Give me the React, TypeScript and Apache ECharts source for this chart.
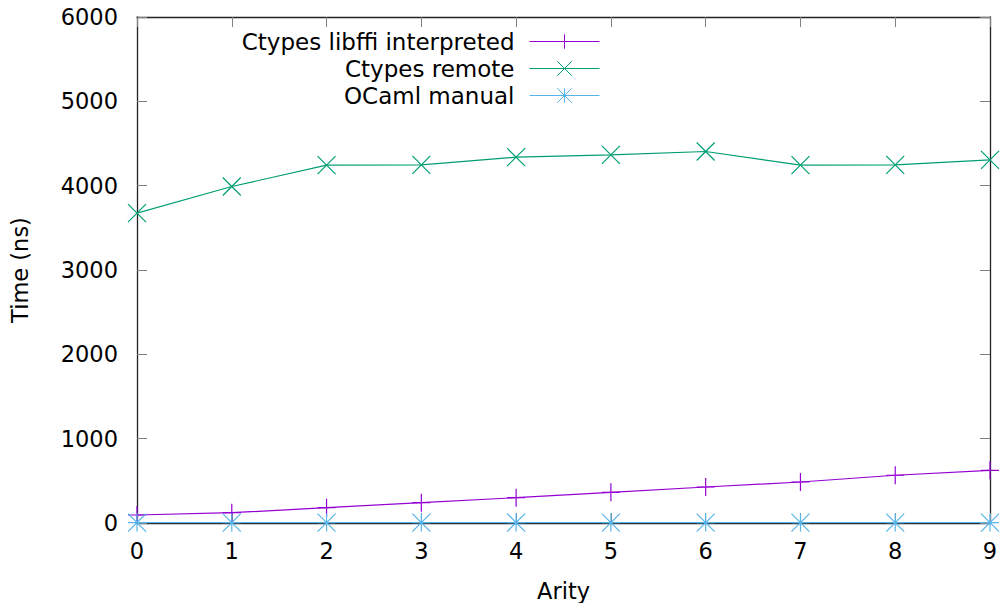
import React, { useEffect, useRef } from "react";
import * as echarts from "echarts";

const arity = [0, 1, 2, 3, 4, 5, 6, 7, 8, 9];
const libffi = [95, 122, 182, 241, 300, 364, 427, 486, 566, 625];
const remote = [3674, 3990, 4243, 4247, 4338, 4365, 4405, 4243, 4247, 4306];
const manual = [5, 5, 5, 5, 5, 5, 5, 5, 5, 5];
const seriesNames = ["Ctypes libffi interpreted", "Ctypes remote", "OCaml manual"];
const colors = ["#9400d3", "#009e73", "#56b4e9"];
const yTicks = [0, 1000, 2000, 3000, 4000, 5000, 6000];

const PLUS = "path://M0,-1L0,1M-1,0L1,0";
const CROSS = "path://M-1,-1L1,1M-1,1L1,-1";
const STAR = "path://M0,-1L0,1M-1,0L1,0M-1,-1L1,1M-1,1L1,-1";
const symbols = [PLUS, CROSS, STAR];

const FONT = "DejaVu Sans";
const FS = 22.5;

export default function App() {
  const ref = useRef<HTMLDivElement>(null);
  useEffect(() => {
    if (!ref.current) return;
    const chart = echarts.init(ref.current, undefined, { renderer: "svg" });
    const datasets = [libffi, remote, manual];
    const series = datasets.map((vals, i) => ({
      name: seriesNames[i],
      type: "line" as const,
      data: arity.map((a, j) => [a, vals[j]]),
      symbol: symbols[i],
      symbolSize: 18,
      showSymbol: true,
      lineStyle: { color: colors[i], width: 1.2 },
      itemStyle: { color: "none", borderColor: colors[i], borderWidth: 1.2 },
      z: 3 + i,
    }));
    const legends = seriesNames.map((n, i) => ({
      data: [n],
      right: 400,
      top: 30 + i * 27,
      align: "right" as const,
      orient: "vertical" as const,
      itemWidth: 70,
      itemHeight: 18,
      itemGap: 0,
      padding: 0,
      selectedMode: false,
      itemStyle: { color: "none", borderColor: colors[i], borderWidth: 1 },
      lineStyle: { color: colors[i], width: 1 },
      textStyle: { fontFamily: FONT, fontSize: 23, color: "#000", padding: [0, 10, 0, 0] },
    }));
    const tickStyle = { show: true, inside: true, length: 10, lineStyle: { color: "#808080", width: 1 } };
    const lineStyle = { show: true, onZero: false, lineStyle: { color: "#222", width: 1.3 } };
    chart.setOption({
      animation: false,
      backgroundColor: "#fff",
      legend: legends,
      grid: { left: 137, right: 10, top: 17, bottom: 80, containLabel: false, outerBoundsMode: "none" },
      xAxis: [
        {
          type: "value",
          min: 0,
          max: 9,
          interval: 1,
          position: "bottom",
          name: "Arity",
          nameLocation: "middle",
          nameGap: 56,
          nameTextStyle: { fontFamily: FONT, fontSize: FS, color: "#000" },
          axisLine: lineStyle,
          axisTick: tickStyle,
          axisLabel: { fontFamily: FONT, fontSize: FS, color: "#000", margin: 16 },
          splitLine: { show: false },
        },
        {
          type: "value",
          min: 0,
          max: 9,
          interval: 1,
          position: "top",
          axisLine: lineStyle,
          axisTick: tickStyle,
          axisLabel: { show: false },
          splitLine: { show: false },
        },
      ],
      yAxis: [
        {
          type: "value",
          min: 0,
          max: 6000,
          interval: 1000,
          position: "left",
          name: "Time (ns)",
          nameLocation: "middle",
          nameRotate: 90,
          nameGap: 106,
          nameTextStyle: { fontFamily: FONT, fontSize: FS, color: "#000" },
          axisLine: lineStyle,
          axisTick: tickStyle,
          axisLabel: {
            fontFamily: FONT,
            fontSize: FS,
            color: "#000",
            margin: 19,
            formatter: (v: number) => (yTicks.includes(v) ? String(v) : ""),
          },
          splitLine: { show: false },
        },
        {
          type: "value",
          min: 0,
          max: 6000,
          interval: 1000,
          position: "right",
          axisLine: lineStyle,
          axisTick: tickStyle,
          axisLabel: { show: false },
          splitLine: { show: false },
        },
      ],
      series,
    });
    return () => chart.dispose();
  }, []);
  return (
    <div
      ref={ref}
      style={{ position: "absolute", left: 0, top: 0, width: 1000, height: 603 }}
    />
  );
}
